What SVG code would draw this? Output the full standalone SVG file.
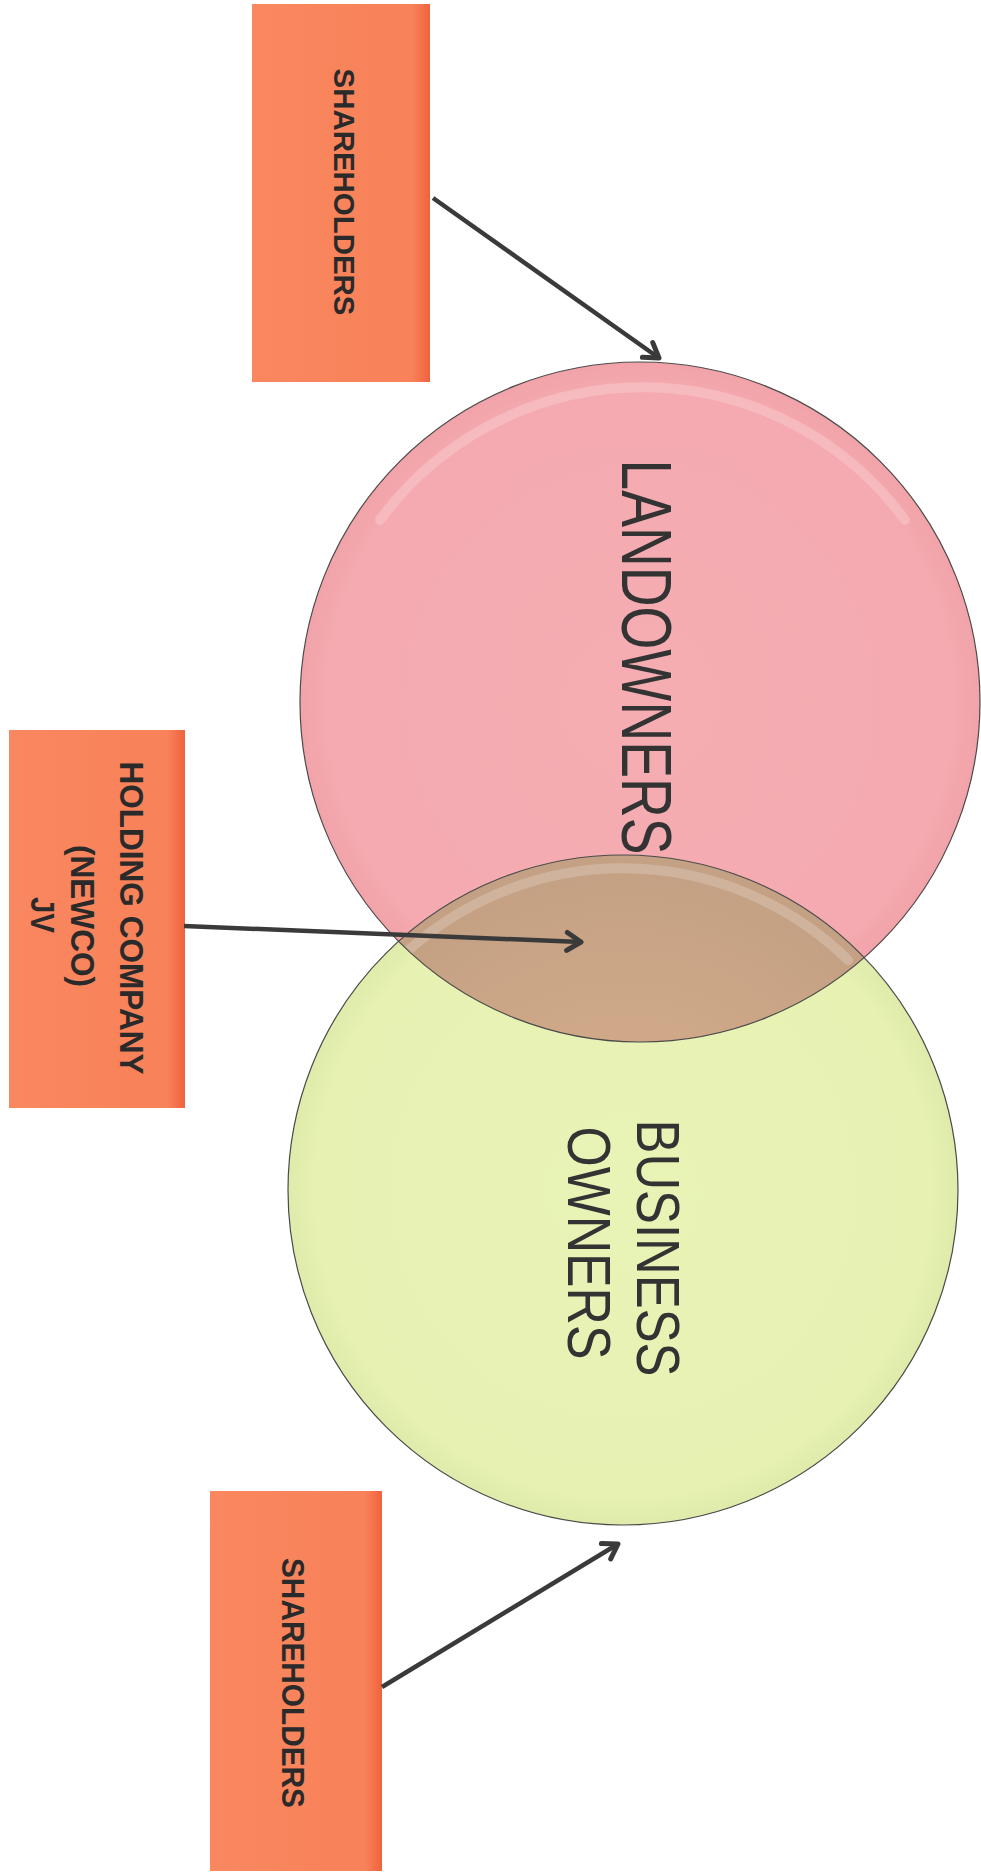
<svg xmlns="http://www.w3.org/2000/svg" width="981" height="1876" viewBox="0 0 981 1876">
  <style>
    .box { fill: url(#boxGrad); }
    .boxText { font-family: "Liberation Sans", Arial, sans-serif; font-weight: bold; fill: #2a2a2a; text-anchor: middle; }
    .circText { font-family: "Liberation Sans", Arial, sans-serif; fill: #333333; text-anchor: middle; }
    .edge { fill: none; stroke: #4a4a4a; stroke-width: 1.2; }
    .gloss { fill: none; stroke: #ffffff; stroke-opacity: 0.2; stroke-width: 10; stroke-linecap: round; }
    .conn { fill: none; stroke: #3a3a3a; stroke-width: 4.5; marker-end: url(#arr); }
  </style>
  <defs>
    <linearGradient id="boxGrad" x1="0" y1="0" x2="1" y2="0">
      <stop offset="0" stop-color="#F9875F"/>
      <stop offset="0.9" stop-color="#F8825A"/>
      <stop offset="1" stop-color="#F0623E"/>
    </linearGradient>
    <radialGradient id="pinkGrad" cx="0.5" cy="0.5" r="0.5">
      <stop offset="0" stop-color="#F5ADB2"/>
      <stop offset="0.92" stop-color="#F4AAB0"/>
      <stop offset="1" stop-color="#F1A3A9"/>
    </radialGradient>
    <radialGradient id="greenGrad" cx="0.5" cy="0.5" r="0.5">
      <stop offset="0" stop-color="#E8F3B6"/>
      <stop offset="0.92" stop-color="#E6F1B2"/>
      <stop offset="1" stop-color="#DEEBAA"/>
    </radialGradient>
    <radialGradient id="lensGrad" cx="0.5" cy="0.5" r="0.5">
      <stop offset="0" stop-color="#D8B08A"/>
      <stop offset="1" stop-color="#C4A084"/>
    </radialGradient>
    <clipPath id="pinkClip">
      <circle cx="640" cy="702" r="340"/>
    </clipPath>
    <marker id="arr" markerWidth="26" markerHeight="26" refX="21" refY="13" orient="auto" markerUnits="userSpaceOnUse">
      <path d="M7,4 L21,13 L7,22" fill="none" stroke="#3a3a3a" stroke-width="5" stroke-linecap="round" stroke-linejoin="round"/>
    </marker>
  </defs>

  <rect width="981" height="1876" fill="#ffffff"/>

  <g id="landowners">
    <circle cx="640" cy="702" r="340" fill="url(#pinkGrad)"/>
  </g>
  <g id="business-owners">
    <circle cx="623" cy="1190" r="335" fill="url(#greenGrad)"/>
  </g>
  <g id="overlap">
    <circle cx="623" cy="1190" r="335" fill="url(#lensGrad)" clip-path="url(#pinkClip)"/>
    <path class="gloss" d="M398,960 A322,322 0 0 1 848,960" clip-path="url(#pinkClip)"/>
  </g>
  <g id="outlines">
    <path class="gloss" d="M380,520 A326,326 0 0 1 905,520"/>
    <circle cx="640" cy="702" r="340" class="edge"/>
    <circle cx="623" cy="1190" r="335" class="edge"/>
  </g>

  <g id="landowners-label">
    <text class="circText" font-size="70" textLength="395" lengthAdjust="spacingAndGlyphs" transform="translate(622,657) rotate(90)">LANDOWNERS</text>
  </g>
  <g id="business-owners-label">
    <text class="circText" font-size="62" textLength="257" lengthAdjust="spacingAndGlyphs" transform="translate(637,1248) rotate(90)">BUSINESS</text>
    <text class="circText" font-size="62" textLength="233" lengthAdjust="spacingAndGlyphs" transform="translate(568,1243) rotate(90)">OWNERS</text>
  </g>

  <g id="shareholders-top">
    <rect class="box" x="252" y="4" width="178" height="378"/>
    <text class="boxText" font-size="30" textLength="247" lengthAdjust="spacingAndGlyphs" transform="translate(334,192) rotate(90)">SHAREHOLDERS</text>
  </g>

  <g id="holding-company">
    <rect class="box" x="9" y="730" width="176" height="378"/>
    <text class="boxText" font-size="34" textLength="313" lengthAdjust="spacingAndGlyphs" transform="translate(120,918) rotate(90)">HOLDING COMPANY</text>
    <text class="boxText" font-size="34" textLength="142" lengthAdjust="spacingAndGlyphs" transform="translate(71,916) rotate(90)">(NEWCO)</text>
    <text class="boxText" font-size="34" textLength="36" lengthAdjust="spacingAndGlyphs" transform="translate(31,915) rotate(90)">JV</text>
  </g>

  <g id="shareholders-bottom">
    <rect class="box" x="210" y="1491" width="172" height="380"/>
    <text class="boxText" font-size="31" textLength="250" lengthAdjust="spacingAndGlyphs" transform="translate(282,1683) rotate(90)">SHAREHOLDERS</text>
  </g>

  <g id="connectors">
    <line class="conn" x1="433" y1="198" x2="659" y2="358"/>
    <line class="conn" x1="184" y1="926" x2="581" y2="942"/>
    <line class="conn" x1="382" y1="1687" x2="618" y2="1544"/>
  </g>
</svg>
